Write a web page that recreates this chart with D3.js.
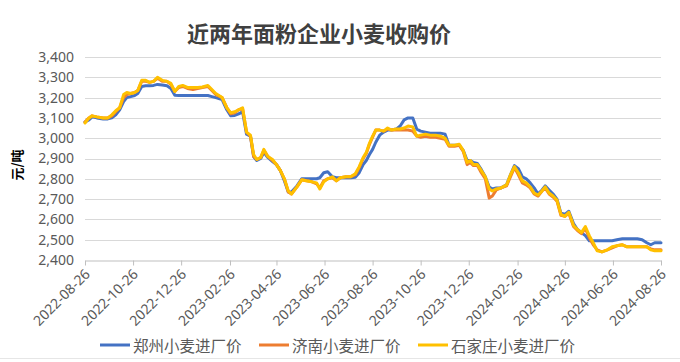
<!DOCTYPE html>
<html><head><meta charset="utf-8">
<script src="https://cdn.jsdelivr.net/npm/d3@7"></script>
<style>
html,body{margin:0;padding:0;background:#fff;}
svg{display:block;}
</style></head>
<body><svg id="c" width="680" height="362"></svg>
<script>
const title = "近两年面粉企业小麦收购价";
const yTitle = "元/吨";
const seriesNames = ["郑州小麦进厂价", "济南小麦进厂价", "石家庄小麦进厂价"];
const colors = ["#4472C4", "#ED7D31", "#FFC000"];
const yTicks = [2400,2500,2600,2700,2800,2900,3000,3100,3200,3300,3400];
const xTickLabels = ["2022-08-26","2022-10-26","2022-12-26","2023-02-26","2023-04-26","2023-06-26","2023-08-26","2023-10-26","2023-12-26","2024-02-26","2024-04-26","2024-06-26","2024-08-26"];

const dates = ["2022-08-26","2022-08-31","2022-09-04","2022-09-10","2022-09-18","2022-09-24","2022-09-29","2022-10-04","2022-10-09","2022-10-14","2022-10-18","2022-10-23","2022-10-28","2022-11-01","2022-11-06","2022-11-11","2022-11-16","2022-11-21","2022-11-26","2022-12-02","2022-12-08","2022-12-13","2022-12-18","2022-12-23","2022-12-28","2023-01-03","2023-01-10","2023-01-16","2023-01-22","2023-01-29","2023-02-03","2023-02-08","2023-02-16","2023-02-22","2023-02-27","2023-03-04","2023-03-09","2023-03-14","2023-03-19","2023-03-24","2023-03-28","2023-04-01","2023-04-06","2023-04-10","2023-04-15","2023-04-21","2023-04-26","2023-05-01","2023-05-06","2023-05-11","2023-05-15","2023-05-22","2023-05-28","2023-06-03","2023-06-10","2023-06-16","2023-06-20","2023-06-25","2023-06-30","2023-07-06","2023-07-11","2023-07-16","2023-07-23","2023-07-29","2023-08-04","2023-08-09","2023-08-14","2023-08-18","2023-08-22","2023-08-26","2023-08-30","2023-09-04","2023-09-09","2023-09-14","2023-09-19","2023-09-25","2023-09-30","2023-10-05","2023-10-10","2023-10-16","2023-10-21","2023-10-26","2023-11-01","2023-11-07","2023-11-14","2023-11-20","2023-11-26","2023-12-01","2023-12-08","2023-12-14","2023-12-19","2023-12-24","2023-12-28","2024-01-01","2024-01-06","2024-01-11","2024-01-16","2024-01-21","2024-01-25","2024-01-30","2024-02-05","2024-02-12","2024-02-17","2024-02-22","2024-02-27","2024-03-03","2024-03-08","2024-03-13","2024-03-18","2024-03-23","2024-03-28","2024-04-01","2024-04-06","2024-04-11","2024-04-16","2024-04-21","2024-04-26","2024-05-01","2024-05-07","2024-05-12","2024-05-17","2024-05-22","2024-05-27","2024-06-01","2024-06-06","2024-06-12","2024-06-19","2024-06-25","2024-07-01","2024-07-08","2024-07-14","2024-07-20","2024-07-27","2024-08-02","2024-08-08","2024-08-13","2024-08-18","2024-08-26"];

const zhengzhou = [3080,3090,3105,3100,3095,3095,3100,3115,3140,3180,3200,3205,3210,3220,3255,3258,3258,3260,3265,3262,3258,3245,3212,3210,3210,3210,3210,3210,3210,3210,3205,3200,3190,3140,3110,3112,3120,3130,3020,3010,2910,2890,2900,2930,2905,2885,2870,2840,2790,2735,2735,2765,2800,2800,2800,2800,2805,2830,2835,2810,2805,2805,2805,2805,2808,2830,2870,2890,2920,2945,2980,3015,3030,3040,3040,3045,3060,3090,3100,3100,3045,3035,3030,3025,3025,3025,3020,2965,2965,2965,2940,2890,2890,2880,2875,2845,2810,2760,2750,2755,2755,2770,2820,2865,2850,2810,2800,2780,2755,2725,2745,2765,2745,2725,2700,2630,2625,2640,2580,2550,2535,2520,2495,2495,2495,2495,2495,2495,2500,2505,2505,2505,2505,2500,2485,2475,2485,2485];

const jinan = [3080,3100,3110,3105,3100,3100,3110,3130,3150,3200,3215,3220,3225,3235,3280,3280,3275,3280,3295,3280,3280,3265,3230,3250,3255,3245,3240,3245,3250,3255,3235,3215,3200,3150,3120,3125,3140,3145,3030,3010,2910,2895,2905,2940,2910,2890,2870,2840,2800,2735,2725,2760,2795,2790,2785,2775,2755,2790,2800,2805,2790,2805,2810,2810,2820,2855,2900,2925,2970,3005,3040,3040,3035,3045,3040,3040,3040,3040,3040,3035,3010,3005,3010,3005,3005,3000,2995,2960,2960,2965,2935,2870,2880,2865,2865,2830,2800,2705,2715,2745,2755,2765,2810,2855,2820,2780,2770,2755,2725,2715,2740,2755,2725,2710,2690,2620,2615,2630,2565,2545,2530,2555,2510,2475,2450,2440,2450,2460,2470,2475,2465,2465,2465,2465,2465,2455,2450,2450];

const shijiazhuang = [3075,3100,3110,3105,3100,3100,3115,3135,3150,3215,3225,3220,3225,3235,3285,3285,3275,3280,3300,3285,3280,3270,3230,3255,3260,3250,3250,3250,3252,3260,3240,3220,3200,3150,3125,3130,3140,3150,3030,3015,2920,2895,2905,2945,2910,2895,2870,2840,2800,2740,2725,2760,2795,2790,2785,2780,2750,2785,2800,2810,2790,2805,2810,2810,2825,2860,2905,2930,2975,3010,3040,3040,3035,3050,3040,3045,3045,3050,3060,3055,3010,3015,3020,3015,3015,3010,3000,2965,2965,2970,2940,2880,2890,2870,2870,2840,2810,2750,2740,2750,2755,2770,2820,2860,2830,2790,2780,2760,2730,2720,2740,2760,2730,2715,2695,2625,2615,2635,2570,2550,2535,2565,2520,2485,2445,2440,2450,2465,2470,2475,2465,2465,2465,2465,2465,2450,2445,2445];

const parse = d3.timeParse("%Y-%m-%d");
const svg = d3.select("#c");
const plotLeft = 85, plotRight = 661, plotTop = 57, plotBottom = 260;

const x = d3.scaleTime().domain([parse(xTickLabels[0]), parse(xTickLabels[xTickLabels.length-1])]).range([plotLeft, plotRight]);
const y = d3.scaleLinear().domain([2400, 3400]).range([plotBottom, plotTop]);

// gridlines
svg.append("g").selectAll("line").data(yTicks.slice(1)).join("line")
  .attr("x1", plotLeft).attr("x2", plotRight)
  .attr("y1", d => Math.round(y(d)) + 0.5).attr("y2", d => Math.round(y(d)) + 0.5)
  .attr("stroke", "#d9d9d9").attr("stroke-width", 1);

// y axis labels
const yAxis = d3.axisLeft(y).tickValues(yTicks).tickFormat(d3.format(",")).tickSize(0).tickPadding(11);
const gy = svg.append("g").attr("transform", `translate(${plotLeft},0)`).call(yAxis);
gy.select(".domain").remove();
gy.selectAll("text").attr("fill", "#595959").attr("font-size", "14px").attr("font-family", "'Noto Sans', sans-serif");

// x axis
const xAxis = d3.axisBottom(x).tickValues(xTickLabels.map(parse)).tickFormat(d3.timeFormat("%Y-%m-%d")).tickSize(5).tickSizeOuter(0);
const gx = svg.append("g").attr("transform", `translate(0,${plotBottom + 0.5})`).call(xAxis);
gx.select(".domain").attr("stroke", "#bfbfbf");
gx.selectAll(".tick line").attr("stroke", "#bfbfbf");
gx.selectAll("text")
  .attr("fill", "#595959").attr("font-size", "14px").attr("font-family", "'Noto Sans', sans-serif")
  .attr("text-anchor", "end").attr("x", 0).attr("y", 0).attr("dy", "0.35em")
  .attr("transform", "translate(2,11) rotate(-45)");

// lines
const seriesData = [zhengzhou, jinan, shijiazhuang];
const line = d3.line().x((d, i) => x(parse(dates[i]))).y(d => y(d));
seriesData.forEach((s, k) => {
  svg.append("path").datum(s).attr("d", line)
    .attr("fill", "none").attr("stroke", colors[k]).attr("stroke-width", 3)
    .attr("stroke-linejoin", "round").attr("stroke-linecap", "round");
});

// title
svg.append("text").attr("x", 319).attr("y", 32).attr("text-anchor", "middle").attr("dominant-baseline", "central")
  .attr("font-family", "'Noto Sans CJK SC', sans-serif").attr("font-size", "22px").attr("font-weight", "bold")
  .attr("fill", "#404040").text(title);

// y title
svg.append("text").attr("transform", "translate(16,165) rotate(-90)").attr("text-anchor", "middle").attr("dominant-baseline", "central")
  .attr("font-family", "'Noto Sans CJK SC', sans-serif").attr("font-size", "13px").attr("font-weight", "bold")
  .attr("fill", "#000").text(yTitle);

// legend
const legendX = [100, 259, 418];
const lg = svg.append("g");
seriesNames.forEach((n, k) => {
  lg.append("line").attr("x1", legendX[k]).attr("x2", legendX[k] + 30).attr("y1", 345).attr("y2", 345)
    .attr("stroke", colors[k]).attr("stroke-width", 3);
  lg.append("text").attr("x", legendX[k] + 33).attr("y", 345).attr("dominant-baseline", "central")
    .attr("font-family", "'Noto Sans CJK SC', sans-serif").attr("font-size", "15.5px")
    .attr("fill", "#595959").text(n);
});

svg.append("line").attr("x1", 0).attr("x2", 680).attr("y1", 358.5).attr("y2", 358.5).attr("stroke", "#e6e6e6");
</script>
</body></html>
